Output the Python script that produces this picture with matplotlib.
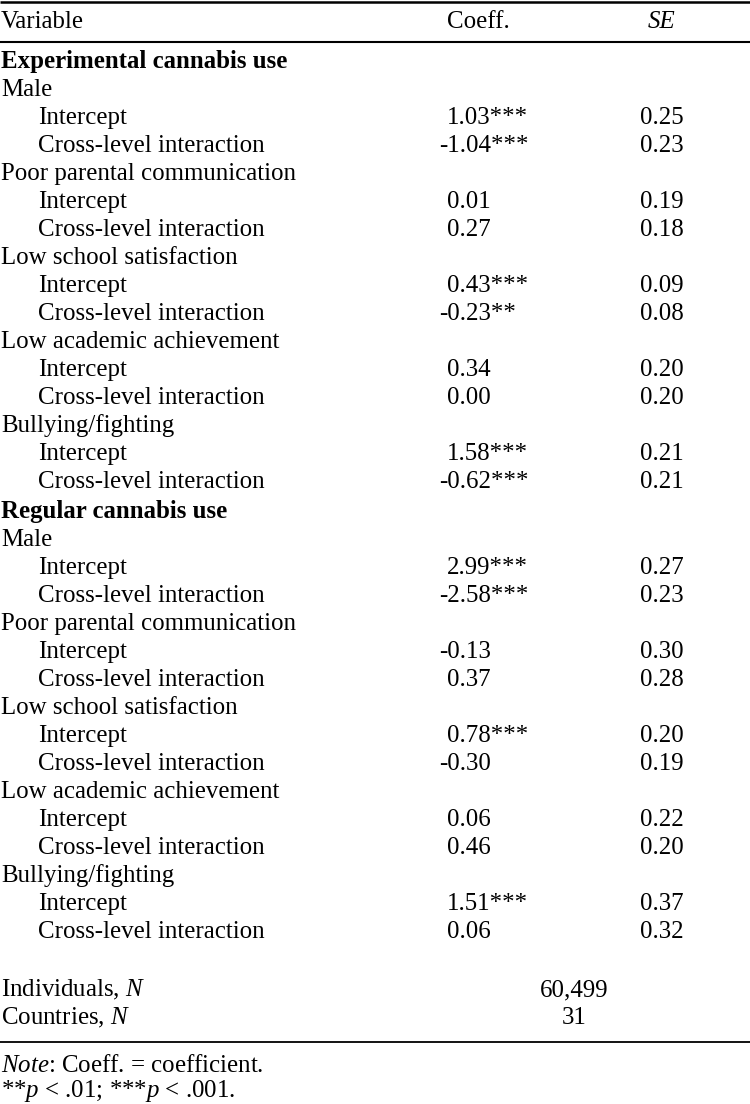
import matplotlib
matplotlib.use("Agg")
import matplotlib.pyplot as plt

plt.rcParams["font.family"] = ["Liberation Serif", "DejaVu Serif"]
plt.rcParams["mathtext.fontset"] = "custom"
plt.rcParams["mathtext.rm"] = "Liberation Serif"
plt.rcParams["mathtext.it"] = "Liberation Serif:italic"
plt.rcParams["mathtext.bf"] = "Liberation Serif:bold"

# Dados da tabela
outcomes = ["Experimental cannabis use", "Regular cannabis use"]
predictors = [
    "Male",
    "Poor parental communication",
    "Low school satisfaction",
    "Low academic achievement",
    "Bullying/fighting",
]
terms = ["Intercept", "Cross-level interaction"]

coef_exp = ["1.03***", "-1.04***", "0.01", "0.27", "0.43***", "-0.23**",
            "0.34", "0.00", "1.58***", "-0.62***"]
se_exp = ["0.25", "0.23", "0.19", "0.18", "0.09", "0.08",
          "0.20", "0.20", "0.21", "0.21"]
coef_reg = ["2.99***", "-2.58***", "-0.13", "0.37", "0.78***", "-0.30",
            "0.06", "0.46", "1.51***", "0.06"]
se_reg = ["0.27", "0.23", "0.30", "0.28", "0.20", "0.19",
          "0.22", "0.20", "0.37", "0.32"]

n_labels = ["Individuals, $N$", "Countries, $N$"]
n_values = ["60,499", "31"]

W, H = 750, 1104
fig = plt.figure(figsize=(W / 100, H / 100), dpi=100)
ax = fig.add_axes([0, 0, 1, 1])
ax.set_xlim(0, W)
ax.set_ylim(H, 0)
ax.axis("off")

fs = 17.9
x_var, x_ind = 1, 38
x_coef_pos, x_coef_neg = 447, 439
x_se = 662
row_h = 28


def txt(x, y, s, **kw):
    kw.setdefault("fontsize", fs)
    kw.setdefault("va", "baseline")
    ax.text(x, y, s, color="black", **kw)


# Cabeçalho (y = linha de base do texto)
ax.hlines(1.5, 0, W, color="black", lw=1.8)
txt(x_var, 28, "Variable")
txt(478, 28, "Coeff.", ha="center")
txt(x_se, 28, "SE", ha="center", style="italic")
ax.hlines(41.5, 0, W, color="black", lw=1.5)

y = 68
blocks = [(coef_exp, se_exp), (coef_reg, se_reg)]
for outcome, (coefs, ses) in zip(outcomes, blocks):
    txt(x_var, y, outcome, fontweight="bold")
    y += row_h
    i = 0
    for pred in predictors:
        txt(x_var, y, pred)
        y += row_h
        for term in terms:
            txt(x_ind, y, term)
            c = coefs[i]
            txt(x_coef_neg if c.startswith("-") else x_coef_pos, y, c)
            txt(x_se, y, ses[i], ha="center")
            y += row_h
            i += 1
    y += 2

y = 996
for lab, val in zip(n_labels, n_values):
    txt(x_var, y, lab)
    txt(574, y, val, ha="center")
    y += row_h

ax.hlines(1041.5, 0, W, color="black", lw=1.3)
txt(x_var, 1072, "$Note$: Coeff. = coefficient.")
txt(x_var, 1097.5, "**$p$ < .01; ***$p$ < .001.")

fig.savefig("out.png", dpi=100, facecolor="white")
